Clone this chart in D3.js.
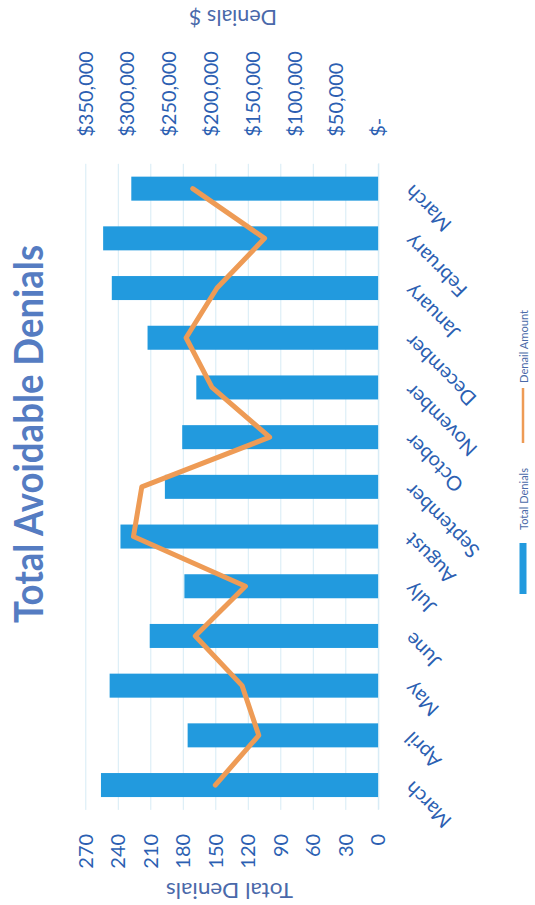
<!DOCTYPE html>
<html>
<head>
<meta charset="utf-8">
<script src="https://cdn.jsdelivr.net/npm/d3@7/dist/d3.min.js"></script>
<style>
  html, body { margin: 0; padding: 0; background: #ffffff; }
  svg { display: block; }
  text { font-family: Lato, "Open Sans", sans-serif; }
</style>
</head>
<body>
<svg id="chart" width="535" height="905"></svg>
<script>
// Months of the reporting period (March through the following March)
const months = ["March", "April", "May", "June", "July", "August", "September",
                "October", "November", "December", "January", "February", "March"];
// Total avoidable denials (count) per month
const totalDenials = [256, 176, 248, 211, 179, 238, 197, 181, 168, 213, 246, 254, 228];
// Denied dollar amount per month
const denailAmount = [195000, 143000, 163000, 219000, 159000, 293000, 283000,
                      130000, 199000, 230000, 193000, 136000, 222000];
// Axis ticks
const countTicks = [0, 30, 60, 90, 120, 150, 180, 210, 240, 270];
const dollarTicks = [0, 50000, 100000, 150000, 200000, 250000, 300000, 350000];
// Legend labels
const seriesNames = ["Total Denials", "Denail Amount"];

const W = 905, H = 535;            // chart laid out landscape, then turned a quarter turn
const plot = { left: 95.1, right: 741.2, top: 85.8, bottom: 378.3 };

const svg = d3.select("#chart");
const g = svg.append("g").attr("transform", `translate(0,${W}) rotate(-90)`);

const x = d3.scaleBand()
  .domain(d3.range(months.length))
  .range([plot.left, plot.right])
  .paddingInner(0.517)
  .paddingOuter(0.2585);

const yCount = d3.scaleLinear().domain([0, 270]).range([plot.bottom, plot.top]);
const yDollar = d3.scaleLinear().domain([0, 350000]).range([plot.bottom, plot.top]);

// gridlines
g.append("g").selectAll("line")
  .data(countTicks)
  .join("line")
  .attr("x1", plot.left).attr("x2", plot.right)
  .attr("y1", d => yCount(d)).attr("y2", d => yCount(d))
  .attr("stroke", "#d6ebf6").attr("stroke-width", 1);

// bars
g.append("g").selectAll("rect")
  .data(totalDenials)
  .join("rect")
  .attr("x", (d, i) => x(i))
  .attr("width", x.bandwidth())
  .attr("y", d => yCount(d))
  .attr("height", d => yCount(0) - yCount(d))
  .attr("fill", "#229ade");

// dollar line
const line = d3.line()
  .x((d, i) => x(i) + x.bandwidth() / 2)
  .y(d => yDollar(d));

g.append("path")
  .datum(denailAmount)
  .attr("d", line)
  .attr("fill", "none")
  .attr("stroke", "#ee9b55")
  .attr("stroke-width", 5)
  .attr("stroke-linejoin", "round")
  .attr("stroke-linecap", "round");

const tickColor = "#2c5fb2";

// left axis: counts
const leftAxis = g.append("g")
  .attr("transform", `translate(${plot.left},0)`)
  .call(d3.axisLeft(yCount).tickValues(countTicks).tickSize(0).tickPadding(24));
leftAxis.select(".domain").remove();
leftAxis.selectAll("text")
  .attr("fill", tickColor).attr("font-size", 20);

// right axis: dollars
const fmtDollar = v => v === 0 ? "$-" : d3.format("$,")(v);
const rightAxis = g.append("g")
  .attr("transform", `translate(${plot.right},0)`)
  .call(d3.axisRight(yDollar).tickValues(dollarTicks).tickSize(0).tickPadding(27).tickFormat(fmtDollar));
rightAxis.select(".domain").remove();
rightAxis.selectAll("text")
  .attr("fill", tickColor).attr("font-size", 20);

// category axis with slanted month names
const bottomAxis = g.append("g")
  .attr("transform", `translate(0,${plot.bottom})`)
  .call(d3.axisBottom(x).tickSize(0).tickFormat(i => months[i]));
bottomAxis.select(".domain")
  .attr("stroke", "#d6ebf6");
bottomAxis.selectAll("text")
  .attr("x", 0).attr("y", 0).attr("dy", "0.35em")
  .attr("transform", "translate(0,30) rotate(-45)")
  .attr("text-anchor", "end")
  .attr("fill", tickColor).attr("font-size", 20);

// title
g.append("text")
  .attr("x", 471).attr("y", 43)
  .attr("text-anchor", "middle")
  .attr("font-size", 40).attr("font-weight", 700)
  .attr("fill", "#557cc2")
  .attr("textLength", 378).attr("lengthAdjust", "spacingAndGlyphs")
  .text("Total Avoidable Denials");

// axis titles
g.append("text")
  .attr("transform", "translate(14,229.5) rotate(-90)")
  .attr("text-anchor", "middle").attr("dominant-baseline", "central")
  .attr("font-size", 22)
  .attr("fill", "#4a69aa")
  .attr("textLength", 127).attr("lengthAdjust", "spacingAndGlyphs")
  .text("Total Denials");

g.append("text")
  .attr("transform", "translate(887,233) rotate(-90)")
  .attr("text-anchor", "middle").attr("dominant-baseline", "central")
  .attr("font-size", 21)
  .attr("fill", "#4a69aa")
  .attr("textLength", 88).attr("lengthAdjust", "spacingAndGlyphs")
  .text("Denials $");

// legend
const legend = g.append("g").attr("transform", "translate(0,523)");
legend.append("rect")
  .attr("x", 311).attr("y", -3.5).attr("width", 51).attr("height", 7)
  .attr("fill", "#229ade");
legend.append("text")
  .attr("x", 375).attr("y", 0).attr("dominant-baseline", "central")
  .attr("font-size", 11).attr("fill", "#4a6aa8")
  .attr("textLength", 62).attr("lengthAdjust", "spacingAndGlyphs")
  .text(seriesNames[0]);
legend.append("line")
  .attr("x1", 462).attr("x2", 517).attr("y1", 0).attr("y2", 0)
  .attr("stroke", "#ee9b55").attr("stroke-width", 2.5);
legend.append("text")
  .attr("x", 522).attr("y", 0).attr("dominant-baseline", "central")
  .attr("font-size", 11).attr("fill", "#4a6aa8")
  .attr("textLength", 73).attr("lengthAdjust", "spacingAndGlyphs")
  .text(seriesNames[1]);
</script>
</body>
</html>
